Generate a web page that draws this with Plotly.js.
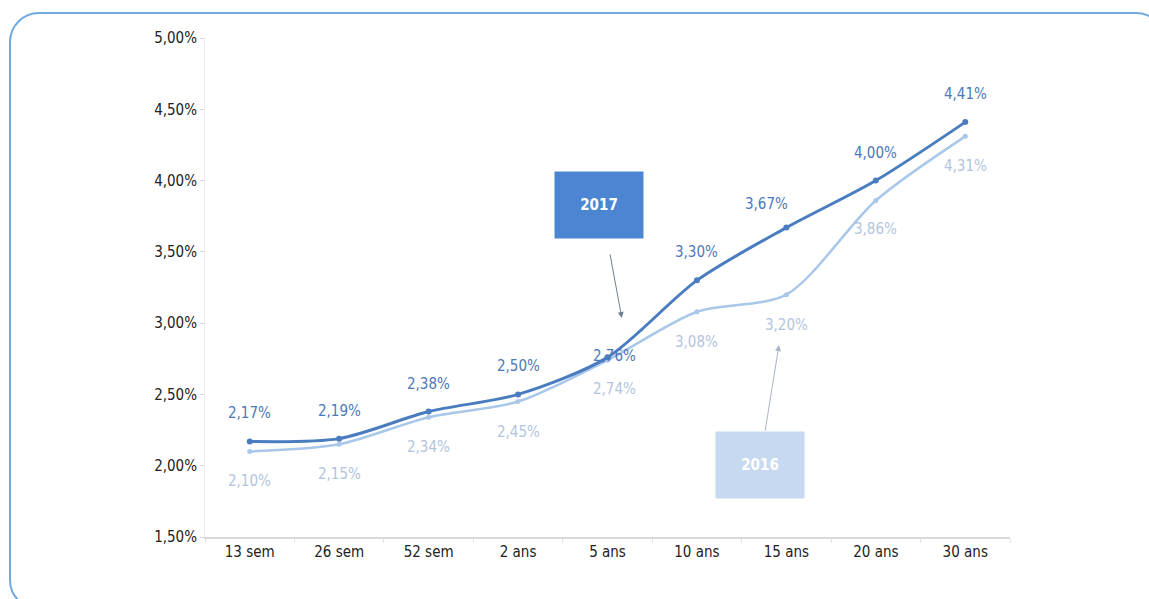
<!DOCTYPE html>
<html>
<head>
<meta charset="utf-8">
<script src="https://cdn.plot.ly/plotly-3.0.1.min.js"></script>
<style>
  html, body { margin: 0; padding: 0; background: #fff; overflow: hidden; }
  #chart { width: 1149px; height: 599px; position: absolute; left: 0; top: 0; }
  #frame { position: absolute; left: 9px; top: 12px; width: 1157px; height: 598px;
           border: 2px solid #6fa9de; border-radius: 30px; pointer-events: none; box-sizing: border-box; }
</style>
</head>
<body>
<div id="chart"></div>
<div id="frame"></div>
<script>
const categories = ["13 sem", "26 sem", "52 sem", "2 ans", "5 ans", "10 ans", "15 ans", "20 ans", "30 ans"];
const values2017 = [2.17, 2.19, 2.38, 2.50, 2.76, 3.30, 3.67, 4.00, 4.41];
const values2016 = [2.10, 2.15, 2.34, 2.45, 2.74, 3.08, 3.20, 3.86, 4.31];
const seriesNames = ["2017", "2016"];
const yTicks = [1.5, 2.0, 2.5, 3.0, 3.5, 4.0, 4.5, 5.0];

const FONT = '"DejaVu Sans Condensed", "Liberation Sans Narrow", "DejaVu Sans", sans-serif';
const C2017 = '#4a7cc0';
const C2016 = '#a9c7e8';
const L2017 = '#4d78b8';
const L2016 = '#b2c4de';

function fmt(v) { return v.toFixed(2).replace('.', ',') + '%'; }

const traces = [
  { x: categories, y: values2016, type: 'scatter', mode: 'lines+markers', name: seriesNames[1],
    line: { color: C2016, width: 2.5, shape: 'spline', smoothing: 0.8 },
    marker: { color: C2016, size: 5 }, hoverinfo: 'skip' },
  { x: categories, y: values2017, type: 'scatter', mode: 'lines+markers', name: seriesNames[0],
    line: { color: C2017, width: 3, shape: 'spline', smoothing: 0.8 },
    marker: { color: C2017, size: 6 }, hoverinfo: 'skip' }
];

const annotations = [];
categories.forEach((c, i) => {
  let xs17 = 0, ys17 = 28;
  if (c === '5 ans') { xs17 = 7; ys17 = 1; }
  if (c === '15 ans') { xs17 = -20; ys17 = 24; }
  annotations.push({ x: c, y: values2017[i], xref: 'x', yref: 'y', text: fmt(values2017[i]),
    showarrow: false, xshift: xs17, yshift: ys17,
    font: { family: FONT, size: 15, color: L2017 } });
  let xs16 = 0, ys16 = -30;
  if (c === '5 ans') { xs16 = 7; ys16 = -29; }
  if (c === '20 ans') { ys16 = -28; }
  annotations.push({ x: c, y: values2016[i], xref: 'x', yref: 'y', text: fmt(values2016[i]),
    showarrow: false, xshift: xs16, yshift: ys16,
    font: { family: FONT, size: 15, color: L2016 } });
});

// Legend boxes
annotations.push({ x: 3.90, y: 3.83, xref: 'x', yref: 'y', text: '<b>' + seriesNames[0] + '</b>',
  showarrow: false, bgcolor: '#4c86d3', width: 86, height: 64, valign: 'middle',
  font: { family: FONT, size: 15, color: '#ffffff' } });
annotations.push({ x: 5.70, y: 2.005, xref: 'x', yref: 'y', text: '<b>' + seriesNames[1] + '</b>',
  showarrow: false, bgcolor: '#c6d9f0', width: 86, height: 64, valign: 'middle',
  font: { family: FONT, size: 15, color: '#ffffff' } });

// Arrows
annotations.push({ x: 4.16, y: 3.036, xref: 'x', yref: 'y', text: '', showarrow: true,
  ax: -12, ay: -65, arrowhead: 2, arrowsize: 1.2, arrowwidth: 1, arrowcolor: '#6f7f93' });
annotations.push({ x: 5.917, y: 2.846, xref: 'x', yref: 'y', text: '', showarrow: true,
  ax: -14, ay: 87, arrowhead: 2, arrowsize: 1.2, arrowwidth: 1, arrowcolor: '#a8b6c8' });

const layout = {
  width: 1149, height: 599,
  margin: { l: 205, r: 139, t: 38, b: 62 },
  paper_bgcolor: '#ffffff', plot_bgcolor: '#ffffff',
  showlegend: false,
  font: { family: FONT, color: '#222222', size: 15 },
  xaxis: {
    type: 'category', range: [-0.5, 8.5], showgrid: false, zeroline: false,
    showline: true, linecolor: '#d9d9d9', linewidth: 2,
    ticks: 'outside', tickson: 'boundaries', ticklen: 4, tickcolor: '#e2e2e2',
    tickfont: { family: FONT, size: 15, color: '#222222' }
  },
  yaxis: {
    range: [1.5, 5.0], tickmode: 'array', tickvals: yTicks, ticktext: yTicks.map(fmt),
    showgrid: false, zeroline: false, showline: true, linecolor: '#ececec', linewidth: 1,
    ticks: 'outside', ticklen: 4, tickcolor: '#d6d6d6',
    tickfont: { family: FONT, size: 15, color: '#222222' }
  },
  annotations: annotations
};

Plotly.newPlot('chart', traces, layout, { displayModeBar: false, staticPlot: true });
</script>
</body>
</html>
